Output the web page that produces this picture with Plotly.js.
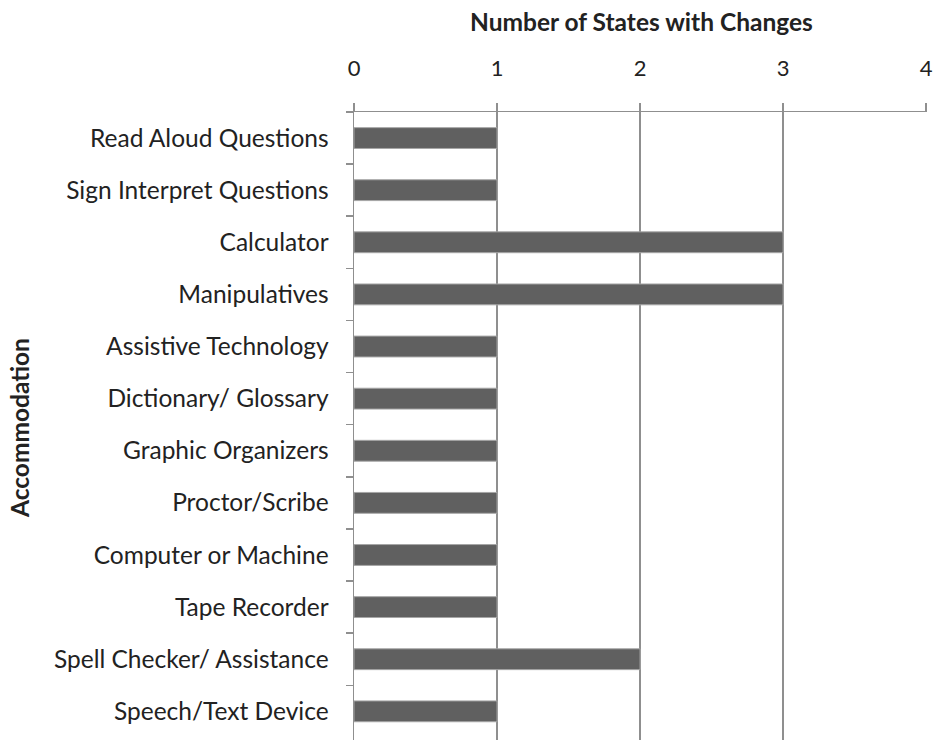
<!DOCTYPE html>
<html>
<head>
<meta charset="utf-8">
<script src="https://cdn.plot.ly/plotly-3.0.1.min.js"></script>
<style>html,body{margin:0;padding:0;background:#fff;}#chart{width:933px;height:740px;}</style>
</head>
<body>
<div id="chart"></div>
<script>
const categories = [
  "Read Aloud Questions",
  "Sign Interpret Questions",
  "Calculator",
  "Manipulatives",
  "Assistive Technology",
  "Dictionary/ Glossary",
  "Graphic Organizers",
  "Proctor/Scribe",
  "Computer or Machine",
  "Tape Recorder",
  "Spell Checker/ Assistance",
  "Speech/Text Device"
];
const values = [1, 1, 3, 3, 1, 1, 1, 1, 1, 1, 2, 1];
const xTicks = [0, 1, 2, 3, 4];
const xTitle = "Number of States with Changes";
const yTitle = "Accommodation";

const font = "Lato, 'Open Sans', sans-serif";
const textColor = "#222222";
const lineColor = "#8f8f8f";

Plotly.newPlot("chart", [{
  type: "bar",
  orientation: "h",
  y: categories,
  x: values,
  marker: {color: "#606060", line: {color: "#a6a6a6", width: 1}},
  hoverinfo: "none"
}], {
  width: 933,
  height: 740,
  margin: {l: 354, r: 6, t: 112, b: 0},
  paper_bgcolor: "#ffffff",
  plot_bgcolor: "#ffffff",
  bargap: 0.6,
  showlegend: false,
  font: {family: font, color: textColor},
  xaxis: {
    side: "top",
    range: [0, 4.006],
    tickvals: xTicks,
    ticktext: xTicks.map(String),
    showgrid: true,
    gridcolor: lineColor,
    gridwidth: 1.5,
    zeroline: false,
    showline: true,
    linecolor: lineColor,
    linewidth: 1.5,
    ticks: "outside",
    ticklen: 8,
    tickcolor: lineColor,
    tickwidth: 1.5,
    ticklabelstandoff: 18,
    tickfont: {size: 22, family: font, color: textColor}
  },
  yaxis: {
    type: "category",
    autorange: false,
    range: [11.55, -0.5],
    showgrid: false,
    zeroline: false,
    showline: true,
    linecolor: lineColor,
    linewidth: 1.5,
    ticks: "outside",
    tickson: "boundaries",
    ticklen: 7,
    tickcolor: lineColor,
    tickwidth: 1.5,
    ticklabelstandoff: 19,
    tickfont: {size: 24.5, family: font, color: textColor}
  },
  annotations: [
    {
      text: "<b>" + xTitle + "</b>",
      xref: "paper", yref: "paper",
      x: (641 - 354) / 573, y: (740 - 21) / 628,
      xanchor: "center", yanchor: "middle",
      showarrow: false,
      font: {size: 24.5, family: font, color: textColor}
    },
    {
      text: "<b>" + yTitle + "</b>",
      xref: "paper", yref: "paper",
      x: (19 - 354) / 573, y: (740 - 428) / 628,
      xanchor: "center", yanchor: "middle",
      textangle: -90,
      showarrow: false,
      font: {size: 24.5, family: font, color: textColor}
    }
  ]
}, {displayModeBar: false, staticPlot: true});
</script>
</body>
</html>
